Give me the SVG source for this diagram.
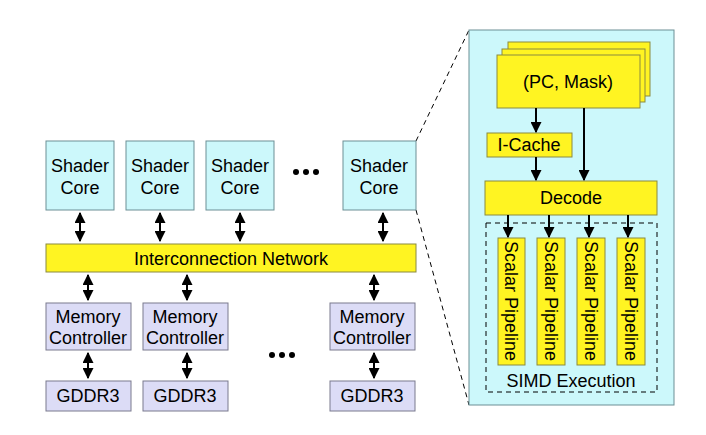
<svg xmlns="http://www.w3.org/2000/svg" width="706" height="435" viewBox="0 0 706 435">
<style>
text{font-family:"Liberation Sans",Arial,sans-serif;font-size:18px;fill:#000;text-anchor:middle}
.sc{fill:#ccf8fb;stroke:#6d8f95;stroke-width:1}
.y{fill:#fff422;stroke:#8a8a40;stroke-width:1}
.m{fill:#dcdcf6;stroke:#7a7a8e;stroke-width:1}
.b{stroke:#000;stroke-width:2;marker-start:url(#a);marker-end:url(#a)}
.o{stroke:#000;stroke-width:2;marker-end:url(#a)}
.d{stroke:#000;stroke-width:1;fill:none;stroke-dasharray:5,4}
</style>
<defs>
<marker id="a" viewBox="0 0 10 10" refX="9" refY="5" markerWidth="5.5" markerHeight="5.5" orient="auto-start-reverse"><path d="M0,0L10,5L0,10z" fill="#000"/></marker>
</defs>
<rect width="706" height="435" fill="#fff"/>
<g id="zoomlines"><path class="d" d="M416,141L469,30M416,210L469,405"/></g>
<g id="core1"><rect class="sc" x="46" y="141" width="68" height="69"/><text x="80" y="172">Shader</text><text x="80" y="194">Core</text></g>
<g id="core2"><rect class="sc" x="126" y="141" width="68" height="69"/><text x="160" y="172">Shader</text><text x="160" y="194">Core</text></g>
<g id="core3"><rect class="sc" x="206" y="141" width="68" height="69"/><text x="240" y="172">Shader</text><text x="240" y="194">Core</text></g>
<g id="dots1" fill="#000"><circle cx="296" cy="172" r="3"/><circle cx="306" cy="172" r="3"/><circle cx="316" cy="172" r="3"/></g>
<g id="core4"><rect class="sc" x="343" y="141" width="73" height="69"/><text x="379" y="172">Shader</text><text x="379" y="194">Core</text></g>
<g id="net"><rect class="y" x="46" y="244" width="370" height="28"/><text x="231" y="265">Interconnection Network</text></g>
<g id="mc1"><rect class="m" x="46" y="303" width="85" height="47"/><text x="88" y="323">Memory</text><text x="88" y="344">Controller</text></g>
<g id="mc2"><rect class="m" x="143" y="303" width="85" height="47"/><text x="185" y="323">Memory</text><text x="185" y="344">Controller</text></g>
<g id="mc3"><rect class="m" x="330" y="303" width="85" height="47"/><text x="372" y="323">Memory</text><text x="372" y="344">Controller</text></g>
<g id="dots2" fill="#000"><circle cx="272" cy="355" r="3"/><circle cx="282" cy="355" r="3"/><circle cx="292" cy="355" r="3"/></g>
<g id="g1"><rect class="m" x="46" y="381" width="85" height="30"/><text x="88" y="402">GDDR3</text></g>
<g id="g2"><rect class="m" x="143" y="381" width="85" height="30"/><text x="185" y="402">GDDR3</text></g>
<g id="g3"><rect class="m" x="330" y="381" width="85" height="30"/><text x="372" y="402">GDDR3</text></g>
<g id="panel"><rect class="sc" x="469" y="30" width="205" height="375"/></g>
<g id="pcmask"><rect class="y" x="508" y="42" width="142" height="54"/><rect class="y" x="502" y="49" width="143" height="53"/><rect class="y" x="497" y="55" width="143" height="53"/><text x="568" y="88">(PC, Mask)</text></g>
<g id="icache"><rect class="y" x="487" y="133" width="85" height="24"/><text x="529" y="151">I-Cache</text></g>
<g id="decode"><rect class="y" x="485" y="181" width="172" height="34"/><text x="571" y="204">Decode</text></g>
<g id="simd"><rect class="d" x="486" y="223" width="171" height="169" stroke-width="1.5"/><text x="571" y="387">SIMD Execution</text></g>
<g id="p1"><rect class="y" x="498" y="238" width="27" height="127"/><text transform="translate(505,301) rotate(90)">Scalar Pipeline</text></g>
<g id="p2"><rect class="y" x="537" y="238" width="28" height="127"/><text transform="translate(545,301) rotate(90)">Scalar Pipeline</text></g>
<g id="p3"><rect class="y" x="577" y="238" width="28" height="127"/><text transform="translate(585,301) rotate(90)">Scalar Pipeline</text></g>
<g id="p4"><rect class="y" x="617" y="238" width="28" height="127"/><text transform="translate(625,301) rotate(90)">Scalar Pipeline</text></g>
<g id="connectors">
<line class="b" x1="80" y1="213" x2="80" y2="241"/>
<line class="b" x1="160" y1="213" x2="160" y2="241"/>
<line class="b" x1="240" y1="213" x2="240" y2="241"/>
<line class="b" x1="383" y1="213" x2="383" y2="241"/>
<line class="b" x1="88" y1="275" x2="88" y2="300"/>
<line class="b" x1="187" y1="275" x2="187" y2="300"/>
<line class="b" x1="374" y1="275" x2="374" y2="300"/>
<line class="b" x1="88" y1="353" x2="88" y2="378"/>
<line class="b" x1="187" y1="353" x2="187" y2="378"/>
<line class="b" x1="374" y1="353" x2="374" y2="378"/>
<line class="o" x1="536" y1="108" x2="536" y2="132"/>
<line class="o" x1="536" y1="157" x2="536" y2="180"/>
<line class="o" x1="584" y1="108" x2="584" y2="180"/>
<line class="o" x1="508" y1="215" x2="508" y2="237"/>
<line class="o" x1="549" y1="215" x2="549" y2="237"/>
<line class="o" x1="589" y1="215" x2="589" y2="237"/>
<line class="o" x1="628" y1="215" x2="628" y2="237"/>
</g>
</svg>
